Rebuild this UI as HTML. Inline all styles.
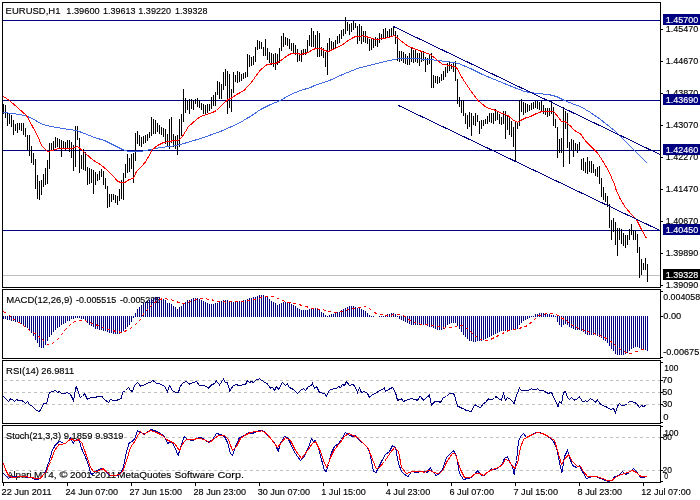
<!DOCTYPE html>
<html><head><meta charset="utf-8"><title>EURUSD,H1</title>
<style>html,body{margin:0;padding:0;background:#fff;width:700px;height:500px;overflow:hidden}svg{display:block}text{white-space:pre}</style>
</head><body>
<svg width="700" height="500" viewBox="0 0 700 500" shape-rendering="crispEdges" font-family='"Liberation Sans", sans-serif' font-size="9px">
<rect x="0" y="0" width="700" height="500" fill="#fff"/>
<text x="5.62" y="14" fill="#000" font-size="9.8px" stroke="#000" stroke-width="0.15" textLength="54.84" lengthAdjust="spacingAndGlyphs" >EURUSD,H1</text>
<text x="66.30" y="14" fill="#000" font-size="9.8px" stroke="#000" stroke-width="0.15" textLength="33.36" lengthAdjust="spacingAndGlyphs" >1.39600</text>
<text x="102.92" y="14" fill="#000" font-size="9.8px" stroke="#000" stroke-width="0.15" textLength="32.48" lengthAdjust="spacingAndGlyphs" >1.39613</text>
<text x="138.31" y="14" fill="#000" font-size="9.8px" stroke="#000" stroke-width="0.15" textLength="32.74" lengthAdjust="spacingAndGlyphs" >1.39220</text>
<text x="175.12" y="14" fill="#000" font-size="9.8px" stroke="#000" stroke-width="0.15" textLength="32.27" lengthAdjust="spacingAndGlyphs" >1.39328</text>
<path d="M3 20.5H660" stroke="#000080" />
<path d="M3 100.5H660" stroke="#000080" />
<path d="M3 150.5H660" stroke="#000080" />
<path d="M3 230.5H660" stroke="#000080" />
<path d="M3 275.5H660" stroke="#C0C0C0" />
<path d="M3.5 104V114M5.5 105V118M7.5 113V126M9.5 114V124M11.5 115V127M13.5 120V135M15.5 124V131M17.5 123V133M19.5 123V130M21.5 123V131M23.5 123V135M25.5 128V137M27.5 135V150M29.5 135V156M31.5 146V163M33.5 153V165M35.5 159V189M37.5 175V199M39.5 181V200M41.5 180V195M43.5 174V187M45.5 168V185M47.5 160V184M49.5 143V169M51.5 143V151M53.5 141V150M55.5 137V148M57.5 138V147M59.5 139V149M61.5 140V157M63.5 141V148M65.5 142V151M67.5 140V149M69.5 140V152M71.5 142V158M73.5 145V171M75.5 126V167M77.5 126V140M79.5 138V173M81.5 155V169M83.5 149V170M85.5 152V171M87.5 167V185M89.5 168V184M91.5 169V183M93.5 170V194M95.5 172V185M97.5 174V181M99.5 171V180M101.5 169V177M103.5 171V185M105.5 178V189M107.5 186V208M109.5 194V207M111.5 194V202M113.5 194V200M115.5 195V203M117.5 196V205M119.5 189V201M121.5 180V199M123.5 173V200M125.5 164V178M127.5 154V173M129.5 158V172M131.5 154V169M133.5 153V183M135.5 133V161M137.5 131V144M139.5 135V146M141.5 137V147M143.5 136V144M145.5 135V143M147.5 134V141M149.5 132V138M151.5 117V136M153.5 119V134M155.5 120V134M157.5 123V132M159.5 125V134M161.5 127V135M163.5 128V137M165.5 129V144M167.5 134V146M169.5 119V149M171.5 117V143M173.5 134V147M175.5 136V149M177.5 135V155M179.5 119V147M181.5 114V136M183.5 89V122M185.5 98V113M187.5 100V110M189.5 99V114M191.5 99V109M193.5 100V110M195.5 99V104M197.5 98V107M199.5 100V108M201.5 103V110M203.5 104V114M205.5 105V115M207.5 104V113M209.5 104V111M211.5 97V109M213.5 95V106M215.5 92V106M217.5 81V95M219.5 82V99M221.5 84V99M223.5 72V90M225.5 69V86M227.5 71V114M229.5 74V108M231.5 89V112M233.5 72V93M235.5 75V82M237.5 71V83M239.5 72V82M241.5 74V81M243.5 73V79M245.5 72V78M247.5 54V77M249.5 55V67M251.5 57V66M253.5 56V65M255.5 47V62M257.5 40V50M259.5 41V49M261.5 42V49M263.5 47V56M265.5 39V56M267.5 48V60M269.5 52V63M271.5 53V65M273.5 54V67M275.5 53V70M277.5 54V65M279.5 48V63M281.5 36V51M283.5 33V47M285.5 37V45M287.5 38V46M289.5 39V49M291.5 43V51M293.5 43V53M295.5 45V55M297.5 49V62M299.5 53V61M301.5 50V62M303.5 49V55M305.5 49V55M307.5 40V52M309.5 35V46M311.5 28V47M313.5 31V47M315.5 35V49M317.5 31V57M319.5 33V57M321.5 47V56M323.5 48V58M325.5 52V67M327.5 43V75M329.5 38V52M331.5 41V50M333.5 42V49M335.5 40V48M337.5 36V44M339.5 34V43M341.5 30V39M343.5 29V36M345.5 17V34M347.5 22V31M349.5 24V35M351.5 23V32M353.5 21V30M355.5 23V28M357.5 26V44M359.5 24V41M361.5 26V44M363.5 31V42M365.5 31V43M367.5 36V44M369.5 39V51M371.5 39V50M373.5 38V48M375.5 37V46M377.5 38V47M379.5 33V43M381.5 34V40M383.5 29V39M385.5 28V38M387.5 31V37M389.5 29V37M391.5 28V36M393.5 26V35M395.5 31V44M397.5 35V61M399.5 51V62M401.5 51V61M403.5 52V63M405.5 54V64M407.5 56V65M409.5 53V65M411.5 48V62M413.5 50V63M415.5 50V62M417.5 53V63M419.5 53V66M421.5 51V62M423.5 51V61M425.5 57V72M427.5 58V65M429.5 55V64M431.5 53V88M433.5 75V88M435.5 76V83M437.5 76V84M439.5 77V83M441.5 74V81M443.5 71V80M445.5 67V77M447.5 63V73M449.5 62V71M451.5 64V69M453.5 62V72M455.5 61V81M457.5 79V104M459.5 97V107M461.5 100V113M463.5 100V116M465.5 113V124M467.5 115V129M469.5 112V127M471.5 113V136M473.5 116V125M475.5 113V126M477.5 115V122M479.5 121V134M481.5 120V129M483.5 120V126M485.5 119V124M487.5 116V124M489.5 113V122M491.5 113V123M493.5 113V124M495.5 109V121M497.5 112V120M499.5 114V124M501.5 117V125M503.5 111V124M505.5 111V139M507.5 115V130M509.5 117V135M511.5 121V137M513.5 127V147M515.5 122V162M517.5 122V129M519.5 100V126M521.5 99V112M523.5 102V115M525.5 103V113M527.5 104V112M529.5 105V111M531.5 103V110M533.5 102V109M535.5 101V108M537.5 101V109M539.5 102V110M541.5 101V112M543.5 105V114M545.5 108V115M547.5 108V117M549.5 108V116M551.5 101V114M553.5 107V126M555.5 119V128M557.5 127V158M559.5 139V153M561.5 138V153M563.5 107V167M565.5 111V129M567.5 113V148M569.5 142V164M571.5 139V150M573.5 140V157M575.5 143V151M577.5 144V153M579.5 142V150M581.5 159V170M583.5 158V171M585.5 162V173M587.5 157V174M589.5 161V172M591.5 161V173M593.5 164V173M595.5 169V176M597.5 167V177M599.5 166V184M601.5 178V197M603.5 187V200M605.5 193V202M607.5 196V207M609.5 204V228M611.5 220V240M613.5 218V232M615.5 222V245M617.5 228V256M619.5 228V240M621.5 229V244M623.5 233V246M625.5 235V248M627.5 235V245M629.5 229V240M631.5 224V235M633.5 230V240M635.5 231V240M637.5 234V253M639.5 247V278M641.5 259V275M643.5 263V270M645.5 258V270M647.5 264V282" stroke="#000" stroke-width="1"/>
<path d="M3.5 112.5 L12.5 113.5 L24.5 115.5 L32.5 118.5 L40.5 123.5 L46.5 125.5 L56.5 127.5 L68.5 129.5 L76.5 130.5 L84.5 133.5 L94.5 137.5 L104.5 140.5 L112.5 144.5 L122.5 149.5 L128.5 151.5 L140.5 151.5 L150.5 149.5 L160.5 147.5 L170.5 146.5 L180.5 144.5 L190.5 141.5 L200.5 138.5 L210.5 135.0 L220.5 131.5 L230.5 127.0 L240.5 122.5 L246.5 118.5 L250.5 116.5 L260.5 109.5 L270.5 104.5 L280.5 100.5 L290.5 94.5 L300.5 90.5 L310.5 87.5 L314.5 85.5 L329.5 80.5 L343.5 74.1 L357.5 68.5 L371.5 64.8 L386.5 61.2 L399.5 58.5 L410.5 58.5 L430.5 59.5 L450.5 62.1 L458.5 63.5 L470.5 68.5 L482.5 74.5 L494.5 79.5 L510.5 86.0 L524.5 91.5 L536.5 93.5 L548.5 94.5 L556.5 96.5 L564.5 100.5 L574.5 104.5 L580.5 106.5 L590.5 112.5 L600.5 119.5 L614.5 130.5 L624.5 140.5 L635.0 151.1 L647.1 163.2" fill="none" stroke="#4169E1" stroke-width="1" />
<path d="M3.5 96.5 L9.5 100.5 L18.5 108.5 L26.5 115.5 L32.5 126.5 L37.5 135.5 L41.5 145.5 L47.5 151.5 L52.5 150.5 L58.5 148.5 L66.5 148.1 L71.5 148.5 L77.5 146.5 L82.5 150.5 L90.5 158.0 L93.5 160.5 L100.5 164.5 L107.5 170.5 L112.5 175.5 L117.5 181.0 L121.5 183.0 L125.5 182.0 L128.5 180.0 L133.5 178.0 L136.5 171.5 L140.5 167.5 L145.5 162.0 L152.5 149.5 L157.5 145.5 L163.5 142.5 L169.5 141.5 L173.5 140.5 L178.5 140.5 L182.5 136.5 L188.5 126.5 L196.5 119.5 L200.5 116.5 L206.5 114.5 L212.5 112.5 L216.5 110.5 L220.5 106.5 L223.5 103.5 L227.5 100.0 L232.5 97.5 L236.5 94.5 L240.5 92.5 L244.5 90.0 L248.5 85.5 L250.5 83.5 L254.5 78.0 L260.5 70.0 L266.5 65.0 L270.5 64.0 L275.5 63.5 L279.5 61.5 L283.5 58.5 L287.5 55.5 L291.5 53.5 L298.5 53.5 L300.5 54.5 L304.5 53.5 L308.5 52.5 L312.5 49.5 L316.5 48.5 L320.5 48.5 L324.5 50.5 L328.5 51.5 L333.5 49.1 L343.5 44.1 L349.1 39.8 L354.8 36.9 L363.5 35.8 L369.1 37.5 L374.5 39.1 L380.5 39.0 L388.5 37.5 L394.5 35.5 L400.5 40.5 L408.5 46.5 L416.5 49.5 L424.5 52.5 L430.5 54.5 L436.5 59.5 L442.5 64.5 L450.5 65.5 L456.5 67.5 L462.5 78.5 L470.5 90.5 L478.5 101.0 L486.5 107.5 L494.5 110.0 L502.5 113.5 L508.5 116.0 L512.5 119.5 L517.5 122.5 L520.5 120.5 L525.5 118.0 L530.5 116.5 L535.5 114.0 L540.5 112.0 L543.5 111.0 L548.5 111.0 L552.5 111.0 L554.5 112.5 L558.5 117.5 L561.5 121.5 L565.5 122.0 L570.5 126.0 L574.5 130.5 L580.5 133.9 L585.2 140.5 L592.1 147.5 L597.2 152.5 L601.5 159.0 L604.5 164.0 L608.5 170.5 L611.5 177.5 L614.5 184.5 L616.0 189.5 L620.5 199.5 L625.5 207.5 L631.5 214.5 L636.5 219.5 L640.5 227.5 L646.5 238.5" fill="none" stroke="#FF0000" stroke-width="1" />
<path d="M393.5 26.5L660 154.5M398.5 105.5L660 230.5" stroke="#000080" fill="none"/>
<text x="6.32" y="303" fill="#000" font-size="9.8px" stroke="#000" stroke-width="0.15" textLength="66.07" lengthAdjust="spacingAndGlyphs" >MACD(12,26,9)</text>
<text x="76.10" y="303" fill="#000" font-size="9.8px" stroke="#000" stroke-width="0.15" textLength="40.07" lengthAdjust="spacingAndGlyphs" >-0.005515</text>
<text x="120.10" y="303" fill="#000" font-size="9.8px" stroke="#000" stroke-width="0.15" textLength="40.07" lengthAdjust="spacingAndGlyphs" >-0.005225</text>
<path d="M3.5 316V319M5.5 316V319M7.5 316V320M9.5 316V320M11.5 316V321M13.5 316V321M15.5 316V322M17.5 316V322M19.5 316V323M21.5 316V324M23.5 316V325M25.5 316V327M27.5 316V328M29.5 316V330M31.5 316V333M33.5 316V336M35.5 316V340M37.5 316V343M39.5 316V347M41.5 316V348M43.5 316V348M45.5 316V345M47.5 316V341M49.5 316V337M51.5 316V335M53.5 316V332M55.5 316V330M57.5 316V328M59.5 316V327M61.5 316V325M63.5 316V324M65.5 316V323M67.5 316V321M69.5 316V321M71.5 316V319M73.5 316V319M75.5 316V318M77.5 316V318M79.5 316V318M81.5 316V319M83.5 316V319M85.5 316V320M87.5 316V323M89.5 316V325M91.5 316V326M93.5 316V327M95.5 316V329M97.5 316V329M99.5 316V330M101.5 316V330M103.5 316V331M105.5 316V331M107.5 316V332M109.5 316V333M111.5 316V333M113.5 316V334M115.5 316V334M117.5 316V334M119.5 316V334M121.5 316V333M123.5 316V331M125.5 316V329M127.5 316V327M129.5 316V325M131.5 316V322M133.5 316V318M135.5 313V317M137.5 309V317M139.5 307V317M141.5 305V317M143.5 303V317M145.5 302V317M147.5 301V317M149.5 300V317M151.5 299V317M153.5 298V317M155.5 297V317M157.5 297V317M159.5 297V317M161.5 298V317M163.5 299V317M165.5 300V317M167.5 303V317M169.5 303V317M171.5 304V317M173.5 306V317M175.5 307V317M177.5 309V317M179.5 307V317M181.5 306V317M183.5 304V317M185.5 302V317M187.5 300V317M189.5 300V317M191.5 299V317M193.5 298V317M195.5 298V317M197.5 298V317M199.5 299V317M201.5 300V317M203.5 301V317M205.5 302V317M207.5 303V317M209.5 304V317M211.5 304V317M213.5 304V317M215.5 303V317M217.5 303V317M219.5 302V317M221.5 301V317M223.5 300V317M225.5 300V317M227.5 300V317M229.5 302V317M231.5 302V317M233.5 302V317M235.5 302V317M237.5 301V317M239.5 301V317M241.5 301V317M243.5 300V317M245.5 300V317M247.5 299V317M249.5 298V317M251.5 298V317M253.5 297V317M255.5 297V317M257.5 296V317M259.5 295V317M261.5 295V317M263.5 295V317M265.5 296V317M267.5 296V317M269.5 299V317M271.5 301V317M273.5 302V317M275.5 303V317M277.5 305V317M279.5 304V317M281.5 303V317M283.5 302V317M285.5 302V317M287.5 302V317M289.5 303V317M291.5 304V317M293.5 305V317M295.5 306V317M297.5 308V317M299.5 309V317M301.5 310V317M303.5 310V317M305.5 310V317M307.5 310V317M309.5 309V317M311.5 308V317M313.5 308V317M315.5 308V317M317.5 309V317M319.5 310V317M321.5 312V317M323.5 313V317M325.5 315V317M327.5 316V317M329.5 315V317M331.5 314V317M333.5 314V317M335.5 313V317M337.5 312V317M339.5 312V317M341.5 310V317M343.5 309V317M345.5 308V317M347.5 307V317M349.5 306V317M351.5 306V317M353.5 306V317M355.5 307V317M357.5 308V317M359.5 308V317M361.5 309V317M363.5 310V317M365.5 311V317M367.5 313V317M369.5 315V317M371.5 316V317M373.5 316V317M379.5 316V317M381.5 316V317M383.5 316V317M385.5 315V317M387.5 314V317M389.5 314V317M391.5 313V317M393.5 313V317M395.5 314V317M397.5 316V317M399.5 316V319M401.5 316V320M403.5 316V321M405.5 316V322M407.5 316V323M409.5 316V324M411.5 316V325M413.5 316V325M415.5 316V325M417.5 316V325M419.5 316V325M421.5 316V325M423.5 316V325M425.5 316V325M427.5 316V326M429.5 316V327M431.5 316V327M433.5 316V328M435.5 316V329M437.5 316V330M439.5 316V330M441.5 316V330M443.5 316V329M445.5 316V327M447.5 316V325M449.5 316V324M451.5 316V323M453.5 316V323M455.5 316V323M457.5 316V326M459.5 316V329M461.5 316V332M463.5 316V335M465.5 316V337M467.5 316V339M469.5 316V341M471.5 316V341M473.5 316V342M475.5 316V342M477.5 316V341M479.5 316V341M481.5 316V341M483.5 316V340M485.5 316V339M487.5 316V338M489.5 316V337M491.5 316V336M493.5 316V335M495.5 316V334M497.5 316V333M499.5 316V332M501.5 316V331M503.5 316V331M505.5 316V331M507.5 316V330M509.5 316V330M511.5 316V330M513.5 316V330M515.5 316V330M517.5 316V329M519.5 316V325M521.5 316V323M523.5 316V321M525.5 316V320M527.5 316V319M529.5 316V318M531.5 316V317M533.5 316V317M535.5 314V317M537.5 314V317M539.5 313V317M541.5 313V317M543.5 313V317M545.5 314V317M547.5 314V317M549.5 314V317M551.5 315V317M553.5 315V317M555.5 316V317M557.5 316V322M559.5 316V325M561.5 316V327M563.5 316V325M565.5 316V324M567.5 316V325M569.5 316V327M571.5 316V328M573.5 316V329M575.5 316V330M577.5 316V330M579.5 316V330M581.5 316V331M583.5 316V332M585.5 316V334M587.5 316V335M589.5 316V335M591.5 316V335M593.5 316V335M595.5 316V335M597.5 316V336M599.5 316V337M601.5 316V338M603.5 316V340M605.5 316V341M607.5 316V343M609.5 316V346M611.5 316V349M613.5 316V351M615.5 316V354M617.5 316V355M619.5 316V355M621.5 316V355M623.5 316V355M625.5 316V354M627.5 316V353M629.5 316V351M631.5 316V349M633.5 316V348M635.5 316V347M637.5 316V347M639.5 316V348M641.5 316V349M643.5 316V349M645.5 316V350M647.5 316V351" stroke="#000080" stroke-width="1"/>
<path d="M3.5 311.5 L8.5 314.5 L12.5 318.5 L20.5 323.5 L28.5 329.5 L36.5 334.5 L42.5 339.5 L47.5 344.5 L52.5 343.5 L58.5 338.5 L64.5 330.5 L70.5 324.5 L76.5 320.5 L80.5 320.1 L86.5 321.1 L92.5 323.5 L100.5 326.5 L108.5 329.5 L116.5 331.5 L122.5 332.5 L128.5 329.5 L134.5 325.5 L139.5 320.5 L144.5 312.5 L150.5 306.5 L156.5 301.5 L162.5 298.5 L170.5 299.5 L176.5 301.5 L180.5 303.5 L184.5 303.5 L190.5 301.5 L196.5 299.5 L202.5 298.5 L210.5 299.5 L218.5 301.5 L226.5 302.1 L234.5 301.5 L242.5 301.5 L250.5 300.5 L258.5 298.5 L266.5 296.1 L274.5 296.9 L280.5 299.5 L286.5 302.1 L294.5 303.5 L302.5 305.5 L310.5 307.9 L318.5 309.1 L326.5 310.5 L334.5 312.5 L342.5 311.5 L350.5 308.9 L358.5 307.5 L364.8 306.5 L369.1 308.4 L371.9 310.5 L376.2 313.4 L381.9 314.8 L387.5 315.5 L393.5 314.8 L399.1 314.8 L404.8 316.2 L409.1 319.8 L411.9 321.2 L417.5 323.4 L423.4 324.8 L429.1 324.8 L434.8 326.2 L438.5 326.7 L444.5 328.1 L450.5 327.5 L456.5 326.1 L462.5 325.5 L468.5 329.5 L474.5 335.5 L480.5 339.5 L484.5 340.9 L490.5 339.5 L496.5 336.5 L502.5 333.5 L508.5 330.5 L514.5 329.5 L520.5 328.0 L526.5 326.1 L532.5 321.5 L538.5 315.5 L544.5 314.1 L550.5 313.5 L556.5 314.5 L560.5 317.5 L566.5 320.5 L572.5 325.5 L578.5 328.1 L584.5 330.5 L590.5 332.5 L596.5 334.5 L602.5 336.5 L608.5 339.5 L614.5 344.5 L620.5 349.5 L626.5 352.9 L630.5 353.5 L634.5 352.1 L640.5 350.1 L646.5 348.5" fill="none" stroke="#FF0000" stroke-width="1" stroke-dasharray="3 3"/>
<path d="M3 380.5H660" stroke="#C0C0C0" stroke-dasharray="3 3" stroke-dashoffset="-1"/>
<path d="M3 392.5H660" stroke="#C0C0C0" stroke-dasharray="3 3" stroke-dashoffset="-1"/>
<path d="M3 404.5H660" stroke="#C0C0C0" stroke-dasharray="3 3" stroke-dashoffset="-1"/>
<text x="6.12" y="374" fill="#000" font-size="9.8px" stroke="#000" stroke-width="0.15" textLength="32.77" lengthAdjust="spacingAndGlyphs" >RSI(14)</text>
<text x="41.24" y="374" fill="#000" font-size="9.8px" stroke="#000" stroke-width="0.15" textLength="32.90" lengthAdjust="spacingAndGlyphs" >26.9811</text>
<path d="M3.5 396.5 L5.5 398.5 L8.5 401.5 L10.5 398.9 L12.5 399.5 L14.5 401.5 L16.5 399.5 L18.5 400.5 L21.5 400.5 L23.5 401.5 L25.5 403.5 L27.5 401.5 L29.5 404.5 L32.5 406.5 L35.5 409.5 L38.5 411.5 L40.5 410.5 L43.5 403.5 L46.5 403.5 L49.5 392.5 L52.5 391.5 L55.5 390.5 L57.5 392.5 L59.5 391.5 L61.5 393.5 L64.5 393.5 L67.5 392.5 L70.5 394.5 L73.5 400.5 L76.1 386.5 L77.5 389.5 L80.1 397.5 L82.5 396.5 L84.5 393.5 L87.5 399.5 L90.5 397.5 L94.5 397.5 L98.5 396.5 L101.5 396.1 L104.5 399.5 L108.5 402.5 L110.5 399.5 L113.5 400.5 L116.5 400.5 L118.5 399.5 L121.5 398.5 L122.5 392.5 L125.5 390.5 L128.5 387.5 L130.5 390.5 L132.5 391.5 L134.5 385.5 L137.5 382.5 L140.5 386.1 L143.5 385.5 L147.5 383.1 L150.5 382.5 L152.5 380.5 L154.5 381.5 L156.5 383.5 L160.5 384.1 L164.5 386.5 L167.5 391.5 L169.5 385.5 L172.5 390.5 L174.5 391.9 L178.5 392.5 L180.1 386.5 L183.5 382.5 L186.1 381.5 L189.5 384.1 L191.5 383.1 L196.5 381.5 L199.5 385.5 L205.5 386.1 L208.5 388.1 L211.5 384.9 L214.5 383.5 L216.5 381.1 L219.5 384.9 L223.5 379.1 L225.5 382.5 L227.5 382.9 L229.9 391.5 L232.5 386.5 L235.5 384.5 L239.5 385.5 L245.5 384.5 L247.5 380.5 L249.5 382.5 L251.5 381.5 L253.5 382.5 L256.5 379.5 L259.5 378.9 L262.5 380.9 L264.5 382.1 L267.5 384.1 L270.5 388.1 L272.5 387.5 L274.5 390.5 L276.5 386.5 L278.5 389.5 L282.5 382.5 L285.5 385.5 L287.5 384.1 L289.5 387.5 L293.5 389.5 L297.5 393.5 L300.5 390.5 L303.5 388.5 L305.5 390.5 L308.5 386.5 L311.5 385.5 L312.5 383.5 L314.5 388.5 L316.5 386.5 L319.5 392.5 L324.5 393.5 L326.5 396.5 L329.5 390.1 L334.5 388.5 L336.5 388.9 L338.5 386.5 L340.5 387.5 L342.5 384.5 L344.5 385.5 L346.5 381.5 L349.5 385.5 L352.5 384.5 L354.5 385.5 L357.5 392.5 L359.5 388.1 L361.5 392.5 L364.5 391.5 L367.5 393.5 L369.5 397.5 L372.5 394.5 L375.5 393.5 L379.5 390.5 L382.5 389.5 L384.5 388.1 L385.5 391.5 L388.5 389.5 L390.5 388.5 L392.5 387.5 L395.5 392.5 L397.5 400.5 L399.5 399.5 L401.5 398.9 L403.5 401.5 L406.5 400.1 L410.5 398.9 L414.5 399.1 L417.5 400.5 L420.1 396.1 L423.5 400.1 L426.5 397.5 L429.5 395.1 L431.5 405.5 L434.5 401.9 L438.5 401.5 L440.5 402.5 L443.5 397.5 L446.5 396.5 L449.5 393.5 L453.5 393.5 L454.5 395.5 L457.5 406.1 L460.5 407.5 L463.5 408.9 L466.5 410.5 L471.5 411.5 L473.5 406.5 L475.5 404.9 L478.5 406.9 L480.5 407.5 L483.5 403.5 L485.5 402.5 L488.5 398.9 L491.5 399.5 L494.5 398.5 L496.1 396.5 L499.5 399.5 L501.5 400.1 L503.5 393.5 L505.5 400.5 L507.5 397.5 L510.5 399.5 L514.1 403.5 L516.5 395.5 L519.5 388.1 L521.5 390.5 L524.5 390.5 L528.5 390.1 L531.5 388.9 L534.5 389.5 L537.5 388.9 L540.5 390.9 L542.5 390.1 L545.5 392.1 L548.5 393.5 L551.5 392.1 L553.5 397.5 L556.5 402.5 L558.1 406.9 L559.5 401.5 L561.5 403.5 L563.5 392.5 L565.5 391.5 L567.5 397.5 L569.5 399.5 L571.5 397.5 L574.5 400.1 L576.5 399.5 L579.5 396.9 L582.5 401.5 L585.5 400.9 L587.5 401.5 L590.5 398.5 L593.5 400.5 L595.5 402.1 L597.5 400.1 L600.5 404.1 L604.5 406.1 L607.5 407.5 L610.5 409.5 L613.5 408.5 L615.5 412.9 L617.5 406.1 L619.5 403.5 L621.5 405.5 L624.5 405.5 L627.5 403.5 L630.1 400.9 L633.5 402.1 L636.5 403.5 L639.5 407.5 L641.5 405.5 L643.5 406.5 L646.5 404.9" fill="none" stroke="#000080" stroke-width="1" />
<path d="M3 437.5H660" stroke="#C0C0C0" stroke-dasharray="3 3" stroke-dashoffset="-1"/>
<path d="M3 470.5H660" stroke="#C0C0C0" stroke-dasharray="3 3" stroke-dashoffset="-1"/>
<text x="6.08" y="439" fill="#000" font-size="9.8px" stroke="#000" stroke-width="0.15" textLength="54.88" lengthAdjust="spacingAndGlyphs" >Stoch(21,3,3)</text>
<text x="63.66" y="439" fill="#000" font-size="9.8px" stroke="#000" stroke-width="0.15" textLength="28.79" lengthAdjust="spacingAndGlyphs" >9.1859</text>
<text x="95.27" y="439" fill="#000" font-size="9.8px" stroke="#000" stroke-width="0.15" textLength="28.17" lengthAdjust="spacingAndGlyphs" >9.9319</text>
<text x="7.08" y="478" fill="#000" font-size="9.8px" stroke="#000" stroke-width="0.15" textLength="24.57" lengthAdjust="spacingAndGlyphs" >Alpari</text>
<text x="33.99" y="478" fill="#000" font-size="9.8px" stroke="#000" stroke-width="0.15" textLength="22.61" lengthAdjust="spacingAndGlyphs" >MT4,</text>
<text x="59.63" y="478" fill="#000" font-size="9.8px" stroke="#000" stroke-width="0.15" textLength="8.04" lengthAdjust="spacingAndGlyphs" >©</text>
<text x="70.01" y="478" fill="#000" font-size="9.8px" stroke="#000" stroke-width="0.15" textLength="46.16" lengthAdjust="spacingAndGlyphs" >2001-2011</text>
<text x="117.18" y="478" fill="#000" font-size="9.8px" stroke="#000" stroke-width="0.15" textLength="54.18" lengthAdjust="spacingAndGlyphs" >MetaQuotes</text>
<text x="174.54" y="478" fill="#000" font-size="9.8px" stroke="#000" stroke-width="0.15" textLength="39.91" lengthAdjust="spacingAndGlyphs" >Software</text>
<text x="217.45" y="478" fill="#000" font-size="9.8px" stroke="#000" stroke-width="0.15" textLength="26.54" lengthAdjust="spacingAndGlyphs" >Corp.</text>
<path d="M3.5 473.5 L5.5 475.5 L8.5 478.5 L11.5 476.5 L15.5 476.1 L20.5 476.1 L25.5 476.9 L30.5 477.5 L35.5 479.5 L39.5 478.9 L40.5 478.1 L44.8 473.1 L49.1 461.5 L51.9 451.5 L54.8 445.9 L59.1 441.5 L61.9 442.4 L64.8 443.8 L67.5 441.5 L70.5 438.1 L73.4 443.1 L76.2 439.5 L79.1 440.2 L81.2 447.4 L83.4 453.1 L86.2 458.8 L89.1 467.4 L90.5 473.1 L91.9 474.5 L94.8 472.4 L97.6 470.2 L101.9 468.1 L104.8 470.2 L107.5 473.8 L110.5 475.9 L116.2 475.9 L120.5 473.1 L123.4 467.4 L126.2 453.1 L129.1 443.1 L131.9 441.5 L134.8 438.8 L137.5 430.9 L140.5 432.4 L144.5 434.5 L150.5 429.5 L154.5 430.5 L160.5 433.5 L164.5 436.5 L167.5 443.5 L171.5 441.5 L174.5 446.5 L178.1 455.5 L181.5 444.5 L184.1 436.5 L187.5 439.5 L192.5 440.5 L196.5 438.5 L200.5 437.5 L204.5 439.5 L208.5 442.5 L212.5 439.5 L216.5 433.5 L220.5 434.5 L224.5 436.5 L227.5 442.5 L230.5 453.5 L232.5 455.5 L235.5 446.5 L239.5 437.5 L244.5 435.5 L248.5 432.5 L252.5 433.5 L256.5 431.5 L260.5 430.5 L264.5 431.5 L268.5 436.5 L272.5 440.5 L275.5 444.5 L278.1 451.5 L280.5 443.5 L284.5 436.5 L287.5 437.5 L290.5 443.5 L293.5 450.5 L297.5 456.5 L300.5 460.5 L303.5 457.5 L308.5 447.5 L311.5 438.9 L313.5 441.5 L315.5 440.5 L318.5 448.5 L321.5 459.5 L324.1 469.5 L326.1 471.5 L328.5 464.5 L331.5 452.5 L334.5 446.5 L338.5 443.5 L341.5 439.5 L345.5 432.5 L349.5 435.5 L353.5 436.5 L355.5 435.5 L359.5 440.5 L363.5 443.5 L366.5 446.5 L369.5 451.5 L371.5 461.5 L373.5 471.5 L376.1 472.5 L378.5 467.5 L381.5 461.5 L385.5 454.5 L389.5 451.5 L392.5 445.5 L395.5 447.5 L398.5 463.5 L401.5 471.5 L404.5 474.5 L408.1 476.5 L411.5 471.5 L414.5 472.1 L417.5 472.5 L420.5 471.5 L424.5 471.5 L427.5 472.5 L430.1 467.5 L432.5 471.5 L436.1 475.5 L439.5 473.5 L442.5 469.5 L446.5 457.5 L450.5 453.5 L453.5 450.5 L456.5 456.5 L459.5 473.5 L463.5 479.5 L467.5 478.5 L471.5 477.5 L474.5 474.5 L477.5 470.9 L481.5 475.5 L484.5 475.5 L488.5 471.5 L491.5 468.9 L495.5 469.5 L499.5 466.5 L502.5 463.5 L504.5 458.1 L507.5 456.9 L509.5 461.5 L512.5 466.5 L514.1 474.5 L516.5 460.5 L518.5 441.5 L520.5 436.5 L523.5 433.5 L526.5 437.5 L530.5 435.5 L535.5 432.5 L540.5 432.9 L545.5 434.5 L550.5 438.5 L553.5 441.5 L556.5 447.5 L559.5 462.5 L561.9 472.5 L564.5 456.5 L567.5 450.5 L569.5 457.5 L572.5 465.5 L576.5 467.5 L579.5 465.5 L582.5 471.5 L586.5 478.5 L589.5 477.5 L592.5 476.1 L596.5 476.9 L600.5 478.5 L604.5 480.1 L608.5 481.5 L611.5 480.5 L614.5 476.9 L618.5 475.5 L622.5 471.5 L625.5 474.5 L629.5 472.5 L633.5 468.5 L636.5 471.5 L640.5 477.5 L643.5 477.5 L646.9 476.5" fill="none" stroke="#0000A0" stroke-width="1" />
<path d="M3.5 463.5 L5.5 469.5 L8.5 475.5 L12.5 477.5 L18.5 476.9 L24.5 476.1 L30.5 477.5 L36.5 478.5 L40.5 478.1 L46.2 471.5 L50.5 461.5 L54.8 450.2 L59.1 444.5 L64.8 443.8 L69.1 440.2 L71.9 438.8 L74.8 440.9 L79.1 439.5 L81.9 443.1 L84.8 450.9 L87.5 458.8 L90.5 467.4 L93.4 471.5 L97.5 471.5 L100.5 469.5 L103.4 468.8 L106.2 471.5 L110.5 475.2 L114.8 475.9 L120.5 473.8 L123.4 470.2 L127.5 457.4 L130.5 447.4 L134.8 441.5 L137.5 435.9 L140.5 431.5 L143.5 434.5 L150.5 430.5 L156.5 432.5 L162.5 435.5 L166.5 439.5 L170.5 441.5 L174.5 443.5 L179.5 450.5 L182.9 443.5 L186.5 439.5 L192.5 439.5 L198.5 438.5 L204.5 439.5 L209.5 442.5 L214.5 438.5 L218.5 435.5 L224.5 435.5 L228.5 439.5 L232.5 450.5 L236.5 446.5 L240.5 438.5 L244.5 435.5 L250.5 432.5 L256.5 431.5 L261.5 430.9 L266.5 433.5 L270.5 438.0 L277.5 447.5 L281.5 442.5 L285.5 437.5 L290.5 440.5 L295.5 450.5 L301.5 458.5 L307.5 450.5 L312.5 443.5 L315.5 441.5 L320.5 451.5 L324.5 463.5 L326.9 467.5 L330.5 457.5 L334.5 449.5 L339.5 443.5 L344.5 436.5 L348.5 433.5 L353.5 435.5 L357.5 437.5 L361.5 441.5 L368.5 448.5 L372.5 459.5 L376.1 468.5 L379.5 467.5 L384.5 461.5 L390.5 452.5 L394.5 447.5 L398.5 451.5 L401.5 467.5 L406.5 473.5 L412.5 471.5 L418.5 471.5 L424.5 472.1 L429.5 470.1 L433.5 472.5 L438.5 473.5 L442.5 470.9 L447.5 460.5 L452.5 453.5 L455.5 454.1 L460.5 469.5 L464.5 477.5 L470.5 477.5 L475.5 473.5 L479.5 473.5 L483.5 475.5 L488.5 471.5 L492.5 469.5 L498.5 467.5 L502.5 464.5 L505.5 459.5 L508.5 460.5 L511.5 464.5 L514.5 468.5 L517.5 463.5 L520.5 447.5 L523.5 439.5 L526.5 437.5 L532.5 434.5 L537.5 432.5 L542.5 433.5 L548.5 436.5 L554.5 440.5 L557.5 450.5 L561.5 464.5 L564.5 459.5 L568.5 454.5 L572.5 461.5 L577.5 466.5 L580.5 466.5 L583.5 471.5 L587.5 476.5 L592.5 476.1 L597.5 476.9 L602.5 478.5 L607.5 480.5 L612.5 480.1 L616.5 476.5 L621.5 474.5 L626.5 472.9 L632.5 470.5 L636.5 472.5 L640.5 476.1 L644.5 476.9 L646.9 476.9" fill="none" stroke="#FF0000" stroke-width="1" />
<path d="M2.5 2.5H660.5V287.5H2.5ZM2.5 289.5H660.5V358.5H2.5ZM2.5 360.5H660.5V423.5H2.5ZM2.5 425.5H660.5V482.5H2.5Z" fill="none" stroke="#000"/>
<text x="665.82" y="32" fill="#000" font-size="9.8px" stroke="#000" stroke-width="0.15" textLength="32.33" lengthAdjust="spacingAndGlyphs" >1.45470</text>
<text x="665.82" y="64" fill="#000" font-size="9.8px" stroke="#000" stroke-width="0.15" textLength="32.33" lengthAdjust="spacingAndGlyphs" >1.44670</text>
<text x="665.82" y="96" fill="#000" font-size="9.8px" stroke="#000" stroke-width="0.15" textLength="32.33" lengthAdjust="spacingAndGlyphs" >1.43870</text>
<text x="665.82" y="128" fill="#000" font-size="9.8px" stroke="#000" stroke-width="0.15" textLength="32.33" lengthAdjust="spacingAndGlyphs" >1.43070</text>
<text x="665.82" y="160" fill="#000" font-size="9.8px" stroke="#000" stroke-width="0.15" textLength="32.33" lengthAdjust="spacingAndGlyphs" >1.42270</text>
<text x="665.82" y="192" fill="#000" font-size="9.8px" stroke="#000" stroke-width="0.15" textLength="32.33" lengthAdjust="spacingAndGlyphs" >1.41470</text>
<text x="665.82" y="224" fill="#000" font-size="9.8px" stroke="#000" stroke-width="0.15" textLength="32.33" lengthAdjust="spacingAndGlyphs" >1.40670</text>
<text x="665.82" y="256" fill="#000" font-size="9.8px" stroke="#000" stroke-width="0.15" textLength="32.33" lengthAdjust="spacingAndGlyphs" >1.39890</text>
<text x="665.82" y="288" fill="#000" font-size="9.8px" stroke="#000" stroke-width="0.15" textLength="32.33" lengthAdjust="spacingAndGlyphs" >1.39090</text>
<text x="663.26" y="300" fill="#000" font-size="9.8px" stroke="#000" stroke-width="0.15" textLength="36.79" lengthAdjust="spacingAndGlyphs" >0.004058</text>
<text x="663.24" y="319" fill="#000" font-size="9.8px" stroke="#000" stroke-width="0.15" textLength="18.02" lengthAdjust="spacingAndGlyphs" >0.00</text>
<text x="663.19" y="355" fill="#000" font-size="9.8px" stroke="#000" stroke-width="0.15" textLength="36.09" lengthAdjust="spacingAndGlyphs" >-0.00675</text>
<text x="664.36" y="371" fill="#000" font-size="9.8px" stroke="#000" stroke-width="0.15" textLength="13.96" lengthAdjust="spacingAndGlyphs" >100</text>
<text x="661.92" y="383" fill="#000" font-size="9.8px" stroke="#000" stroke-width="0.15" textLength="10.45" lengthAdjust="spacingAndGlyphs" >70</text>
<text x="662.24" y="395" fill="#000" font-size="9.8px" stroke="#000" stroke-width="0.15" textLength="10.12" lengthAdjust="spacingAndGlyphs" >50</text>
<text x="662.25" y="407" fill="#000" font-size="9.8px" stroke="#000" stroke-width="0.15" textLength="10.10" lengthAdjust="spacingAndGlyphs" >30</text>
<text x="663.13" y="420" fill="#000" font-size="9.8px" stroke="#000" stroke-width="0.15" textLength="5.24" lengthAdjust="spacingAndGlyphs" >0</text>
<text x="664.35" y="436" fill="#000" font-size="9.8px" stroke="#000" stroke-width="0.15" textLength="14.29" lengthAdjust="spacingAndGlyphs" >100</text>
<text x="662.63" y="440" fill="#000" font-size="9.8px" stroke="#000" stroke-width="0.15" textLength="9.40" lengthAdjust="spacingAndGlyphs" >80</text>
<text x="662.57" y="473" fill="#000" font-size="9.8px" stroke="#000" stroke-width="0.15" textLength="9.46" lengthAdjust="spacingAndGlyphs" >20</text>
<text x="664.13" y="479" fill="#000" font-size="9.8px" stroke="#000" stroke-width="0.15" textLength="3.84" lengthAdjust="spacingAndGlyphs" >0</text>
<text x="1.54" y="495" fill="#000" font-size="9.8px" stroke="#000" stroke-width="0.15" textLength="50.01" lengthAdjust="spacingAndGlyphs" >22 Jun 2011</text>
<text x="65.54" y="495" fill="#000" font-size="9.8px" stroke="#000" stroke-width="0.15" textLength="52.53" lengthAdjust="spacingAndGlyphs" >24 Jun 07:00</text>
<text x="129.54" y="495" fill="#000" font-size="9.8px" stroke="#000" stroke-width="0.15" textLength="52.53" lengthAdjust="spacingAndGlyphs" >27 Jun 15:00</text>
<text x="193.54" y="495" fill="#000" font-size="9.8px" stroke="#000" stroke-width="0.15" textLength="52.53" lengthAdjust="spacingAndGlyphs" >28 Jun 23:00</text>
<text x="257.65" y="495" fill="#000" font-size="9.8px" stroke="#000" stroke-width="0.15" textLength="52.53" lengthAdjust="spacingAndGlyphs" >30 Jun 07:00</text>
<text x="321.31" y="495" fill="#000" font-size="9.8px" stroke="#000" stroke-width="0.15" textLength="44.45" lengthAdjust="spacingAndGlyphs" >1 Jul 15:00</text>
<text x="385.79" y="495" fill="#000" font-size="9.8px" stroke="#000" stroke-width="0.15" textLength="44.45" lengthAdjust="spacingAndGlyphs" >4 Jul 23:00</text>
<text x="449.54" y="495" fill="#000" font-size="9.8px" stroke="#000" stroke-width="0.15" textLength="44.45" lengthAdjust="spacingAndGlyphs" >6 Jul 07:00</text>
<text x="513.53" y="495" fill="#000" font-size="9.8px" stroke="#000" stroke-width="0.15" textLength="44.45" lengthAdjust="spacingAndGlyphs" >7 Jul 15:00</text>
<text x="577.61" y="495" fill="#000" font-size="9.8px" stroke="#000" stroke-width="0.15" textLength="44.45" lengthAdjust="spacingAndGlyphs" >8 Jul 23:00</text>
<text x="641.31" y="495" fill="#000" font-size="9.8px" stroke="#000" stroke-width="0.15" textLength="49.50" lengthAdjust="spacingAndGlyphs" >12 Jul 07:00</text>
<path d="M661 29.5H663M661 61.5H663M661 93.5H663M661 125.5H663M661 157.5H663M661 189.5H663M661 221.5H663M661 253.5H663M661 285.5H663M661 291.5H663M661 316.5H663M661 357.5H663M661 362.5H663M661 380.5H663M661 392.5H663M661 404.5H663M661 422.5H663M661 426.5H663M661 437.5H663M661 470.5H663M661 481.5H663M3.5 483V486M67.5 483V486M131.5 483V486M195.5 483V486M259.5 483V486M323.5 483V486M387.5 483V486M451.5 483V486M515.5 483V486M579.5 483V486M643.5 483V486" stroke="#000" fill="none"/>
<rect x="663" y="14" width="37" height="11" fill="#000080"/>
<text x="665.82" y="23" fill="#fff" font-size="9.8px" stroke="#fff" stroke-width="0.15" textLength="32.33" lengthAdjust="spacingAndGlyphs" >1.45700</text>
<rect x="663" y="94" width="37" height="11" fill="#000080"/>
<text x="665.82" y="103" fill="#fff" font-size="9.8px" stroke="#fff" stroke-width="0.15" textLength="32.33" lengthAdjust="spacingAndGlyphs" >1.43690</text>
<rect x="663" y="144" width="37" height="11" fill="#000080"/>
<text x="665.82" y="153" fill="#fff" font-size="9.8px" stroke="#fff" stroke-width="0.15" textLength="32.33" lengthAdjust="spacingAndGlyphs" >1.42460</text>
<rect x="663" y="224" width="37" height="11" fill="#000080"/>
<text x="665.82" y="233" fill="#fff" font-size="9.8px" stroke="#fff" stroke-width="0.15" textLength="32.33" lengthAdjust="spacingAndGlyphs" >1.40450</text>
<rect x="663" y="269" width="37" height="11" fill="#000"/>
<text x="665.82" y="278" fill="#fff" font-size="9.8px" stroke="#fff" stroke-width="0.15" textLength="32.37" lengthAdjust="spacingAndGlyphs" >1.39328</text>
</svg>
</body></html>
